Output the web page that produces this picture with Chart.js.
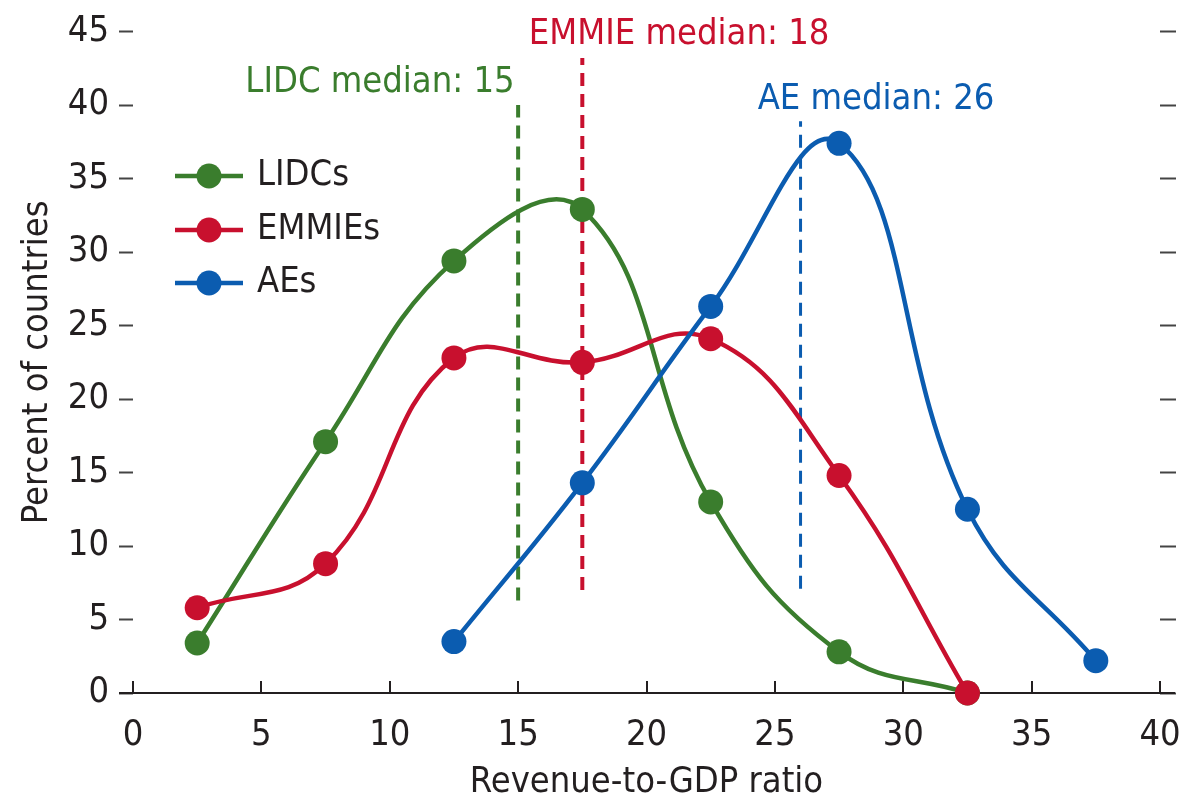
<!DOCTYPE html>
<html>
<head>
<meta charset="utf-8">
<script src="https://cdn.jsdelivr.net/npm/chart.js@4.4.1/dist/chart.umd.min.js"></script>
<style>
  html, body { margin: 0; padding: 0; background: #fff; }
  #wrap { width: 1202px; height: 804px; }
</style>
</head>
<body>
<div id="wrap"><canvas id="myChart" width="1202" height="804"></canvas></div>
<script>
// data
const binCenters = [2.5, 7.5, 12.5, 17.5, 22.5, 27.5, 32.5, 37.5];
const lidcValues  = [3.4, 17.1, 29.4, 32.9, 13.0, 2.8, 0];
const emmieValues = [5.8, 8.8, 22.8, 22.5, 24.1, 14.8, 0];
const aeValues    = [null, null, 3.5, 14.3, 26.3, 37.4, 12.5, 2.2];

const seriesNames = ["LIDCs", "EMMIEs", "AEs"];
const medianNames = ["LIDC median: 15", "EMMIE median: 18", "AE median: 26"];
const medianX     = [15, 17.5, 26];
const medianLow   = [6.3, 7.0, 7.1];
const medianHigh  = [40.0, 43.2, 38.9];

const xTicks = [0, 5, 10, 15, 20, 25, 30, 35, 40];
const yTicks = [0, 5, 10, 15, 20, 25, 30, 35, 40, 45];

const green = "#3a7d2d";
const red   = "#c8102e";
const blue  = "#0b5cb0";
const ink   = "#231f20";
const fam   = "'Liberation Sans Narrow', 'Arial Narrow', 'DejaVu Sans Condensed', sans-serif";
const fsize = 36;

const toPoints = (vals) => vals
  .map((v, i) => ({ x: binCenters[i], y: v }))
  .filter(p => p.y !== null);

const curve = (label, vals, color, order) => ({
  label: label,
  data: toPoints(vals),
  borderColor: color,
  backgroundColor: color,
  borderWidth: 4.5,
  pointRadius: 12.5,
  pointHoverRadius: 12.5,
  pointBorderWidth: 0,
  tension: 0.42,
  fill: false,
  clip: false,
  order: order
});

const medianLine = (i, color, width) => ({
  label: medianNames[i],
  data: [{ x: medianX[i], y: medianLow[i] }, { x: medianX[i], y: medianHigh[i] }],
  borderColor: color,
  borderWidth: width,
  borderDash: [13, 8],
  pointRadius: 0,
  fill: false,
  order: 10
});

// axis line, inward x ticks, legend and median labels
const decor = {
  id: "decor",
  beforeDatasetsDraw(chart) {
    const ctx = chart.ctx;
    const x = chart.scales.x, y = chart.scales.y;
    const y0 = y.getPixelForValue(0);
    ctx.save();
    ctx.strokeStyle = ink;
    ctx.lineWidth = 2;
    ctx.beginPath();
    ctx.moveTo(x.left - 14, y0);
    ctx.lineTo(x.right + 15, y0);
    xTicks.forEach(t => {
      const px = Math.round(x.getPixelForValue(t));
      ctx.moveTo(px, y0);
      ctx.lineTo(px, y0 - 12);
    });
    ctx.stroke();
    ctx.restore();
  },
  afterDraw(chart) {
    const ctx = chart.ctx;
    const x = chart.scales.x, y = chart.scales.y;
    const colors = [green, red, blue];
    ctx.save();
    ctx.font = fsize + "px " + fam;
    ctx.textBaseline = "middle";

    // legend
    const rows = [176, 230, 283];
    seriesNames.forEach((name, i) => {
      ctx.strokeStyle = colors[i];
      ctx.fillStyle = colors[i];
      ctx.lineWidth = 4.5;
      ctx.beginPath();
      ctx.moveTo(175, rows[i]);
      ctx.lineTo(243, rows[i]);
      ctx.stroke();
      ctx.beginPath();
      ctx.arc(209, rows[i], 12.5, 0, Math.PI * 2);
      ctx.fill();
      ctx.fillStyle = ink;
      ctx.textAlign = "left";
      ctx.fillText(name, 257, rows[i]);
    });

    // median labels
    const anchors = [[9.62, 41.55], [21.27, 44.8], [28.94, 40.4]];
    medianNames.forEach((name, i) => {
      ctx.fillStyle = colors[i];
      ctx.textAlign = "center";
      ctx.fillText(name, x.getPixelForValue(anchors[i][0]), y.getPixelForValue(anchors[i][1]));
    });
    ctx.restore();
  }
};

const font = { family: fam, size: fsize };

const ctx = document.getElementById("myChart").getContext("2d");
const myChart = new Chart(ctx, {
  type: "line",
  data: {
    datasets: [
      curve(seriesNames[0], lidcValues, green, 3),
      curve(seriesNames[1], emmieValues, red, 2),
      curve(seriesNames[2], aeValues, blue, 1),
      medianLine(0, green, 4),
      medianLine(1, red, 4),
      medianLine(2, blue, 3)
    ]
  },
  options: {
    responsive: false,
    animation: false,
    events: [],
    layout: { padding: { top: 28, left: 0, right: 0, bottom: 0 } },
    plugins: { legend: { display: false }, tooltip: { enabled: false } },
    scales: {
      x: {
        type: "linear",
        min: 0, max: 40,
        afterBuildTicks: (s) => { s.ticks = xTicks.map(v => ({ value: v })); },
        ticks: { color: ink, font: font, padding: 21, maxRotation: 0 },
        grid: { display: false, drawTicks: false },
        border: { display: false },
        title: { display: true, text: "Revenue-to-GDP ratio", color: ink, font: font, padding: { top: 0, bottom: 0 } },
        afterFit: (s) => { s.height = 111; }
      },
      y: {
        type: "linear",
        position: "left",
        min: 0, max: 45,
        afterBuildTicks: (s) => { s.ticks = yTicks.map(v => ({ value: v })); },
        ticks: { color: ink, font: font, padding: 10 },
        grid: { drawOnChartArea: false, drawTicks: true, tickLength: 14, tickColor: "#444", tickWidth: 2 },
        border: { display: false },
        title: { display: true, text: "Percent of countries", color: ink, font: font, padding: { top: 16, bottom: 0 } },
        afterFit: (s) => { s.width = 133; }
      },
      y2: {
        type: "linear",
        position: "right",
        min: 0, max: 45,
        afterBuildTicks: (s) => { s.ticks = yTicks.map(v => ({ value: v })); },
        ticks: { display: false },
        grid: { drawOnChartArea: false, drawTicks: true, tickLength: 16, tickColor: "#444", tickWidth: 2 },
        border: { display: false },
        afterFit: (s) => { s.width = 42; }
      }
    }
  },
  plugins: [decor]
});
</script>
</body>
</html>
